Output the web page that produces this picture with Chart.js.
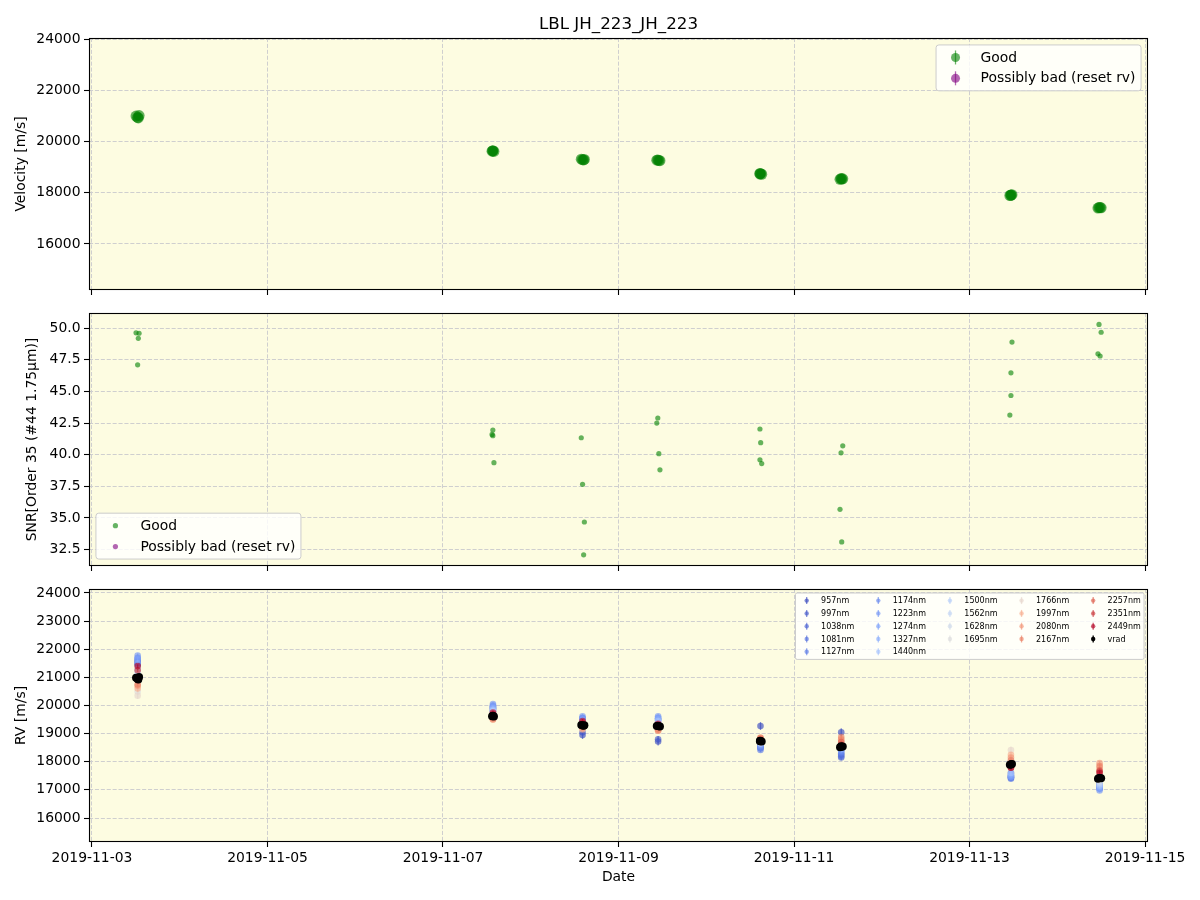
<!DOCTYPE html>
<html>
<head>
<meta charset="utf-8">
<title>LBL JH_223_JH_223</title>
<script src="https://cdn.jsdelivr.net/npm/chart.js@4.4.1/dist/chart.umd.min.js"></script>
<style>
  body { margin: 0; background: #fff; }
  #wrap { position: relative; width: 1200px; height: 900px; }
  #wrap canvas { position: absolute; left: 0; }
  #title { position: absolute; z-index: 5; left: 89px; width: 1059px; top: 13px; line-height: 20px;
           text-align: center; font: 16.7px "DejaVu Sans", sans-serif; color: #000; }
</style>
</head>
<body>
<div id="wrap">
  <canvas id="velChart" width="1200" height="300" style="top:0px"></canvas>
  <canvas id="snrChart" width="1200" height="276" style="top:300px"></canvas>
  <canvas id="rvChart" width="1200" height="324" style="top:576px"></canvas>
  <div id="title">LBL JH_223_JH_223</div>
</div>
<script>
// ---- data ----
const dateTicks = ['2019-11-03', '2019-11-05', '2019-11-07', '2019-11-09', '2019-11-11', '2019-11-13', '2019-11-15'];

// individual visits (4 per night)
const obsDates = [
  '2019-11-03 12:03', '2019-11-03 12:53', '2019-11-03 12:40', '2019-11-03 12:29',
  '2019-11-07 13:38', '2019-11-07 13:25', '2019-11-07 13:38', '2019-11-07 13:56',
  '2019-11-08 13:49', '2019-11-08 14:10', '2019-11-08 14:40', '2019-11-08 14:28',
  '2019-11-09 10:45', '2019-11-09 10:28', '2019-11-09 11:02', '2019-11-09 11:20',
  '2019-11-10 14:41', '2019-11-10 14:53', '2019-11-10 14:41', '2019-11-10 15:10',
  '2019-11-11 13:20', '2019-11-11 12:52', '2019-11-11 12:35', '2019-11-11 13:03',
  '2019-11-13 11:37', '2019-11-13 11:20', '2019-11-13 11:20', '2019-11-13 11:02',
  '2019-11-14 11:25', '2019-11-14 12:00', '2019-11-14 11:08', '2019-11-14 11:43'
];
const velocity = [
  20990, 21010, 20920, 20940,
  19640, 19620, 19630, 19610,
  19310, 19290, 19300, 19280,
  19280, 19270, 19260, 19250,
  18750, 18740, 18730, 18720,
  18540, 18550, 18520, 18530,
  17920, 17910, 17900, 17890,
  17420, 17410, 17400, 17420
];
const snr = [
  49.63, 49.6, 49.2, 47.1,
  41.95, 41.6, 41.5, 39.37,
  41.34, 37.66, 34.68, 32.08,
  42.9, 42.5, 40.08, 38.8,
  42.03, 40.95, 39.6, 39.3,
  40.7, 40.15, 35.68, 33.1,
  48.9, 46.47, 44.68, 43.13,
  50.3, 49.68, 47.97, 47.8
];
const badDates = [];
const badVelocity = [];
const badSnr = [];

// per-band RV, one value per night
const epochDates = ['2019-11-03 12:30', '2019-11-07 13:40', '2019-11-08 14:10', '2019-11-09 10:50',
                    '2019-11-10 14:50', '2019-11-11 12:55', '2019-11-13 11:20', '2019-11-14 11:35'];
const wavelengths = [957, 997, 1038, 1081, 1127, 1174, 1223, 1274, 1327, 1440,
                     1500, 1562, 1628, 1695, 1766, 1997, 2080, 2167, 2257, 2351, 2449];
const rv957  = [21450, 19800, 18950, 18720, 19270, 19050, 17600, 17250];
const rv997  = [21500, 19850, 19050, 18800, 18550, 18250, 17500, 17200];
const rv1038 = [21550, 19900, 19450, 19350, 18480, 18150, 17450, 17150];
const rv1081 = [21600, 19950, 19500, 19450, 18550, 18200, 17420, 17100];
const rv1127 = [21650, 19950, 19550, 19500, 18420, 18300, 17400, 17050];
const rv1174 = [21700, 20000, 19550, 19550, 18500, 18350, 17500, 17050];
const rv1223 = [21780, 20050, 19620, 19620, 18550, 18400, 17450, 16980];
const rv1274 = [21650, 19950, 19500, 19550, 18600, 18450, 17480, 17050];
const rv1327 = [21500, 19900, 19450, 19500, 18650, 18450, 17550, 17100];
const rv1440 = [21300, 19850, 19400, 19450, 18700, 18500, 17600, 17150];
const rv1500 = [21200, 19800, 19400, 19350, 18700, 18500, 17850, 17200];
const rv1562 = [21100, 19750, 19350, 19300, 18650, 18550, 17900, 17250];
const rv1628 = [20900, 19700, 19300, 19250, 18700, 18600, 17950, 17300];
const rv1695 = [20500, 19600, 19250, 19200, 18750, 18600, 18050, 17350];
const rv1766 = [20350, 19550, 19200, 19150, 18800, 18700, 18420, 17500];
const rv1997 = [20600, 19500, 19150, 19100, 18800, 18750, 18250, 17800];
const rv2080 = [20700, 19500, 19200, 19100, 18850, 18800, 18150, 17950];
const rv2167 = [20750, 19550, 19250, 19150, 18850, 18880, 18050, 17850];
const rv2257 = [20900, 19650, 19350, 19250, 18800, 18700, 17900, 17700];
const rv2351 = [21250, 19700, 19400, 19300, 18750, 18600, 17800, 17650];
const rv2449 = [21400, 19750, 19450, 19350, 18700, 18550, 17790, 17600];
const bandSeries = [rv957, rv997, rv1038, rv1081, rv1127, rv1174, rv1223, rv1274, rv1327, rv1440,
                    rv1500, rv1562, rv1628, rv1695, rv1766, rv1997, rv2080, rv2167, rv2257, rv2351, rv2449];
const bandErr = [140, 120, 100, 90, 80, 80, 70, 70, 70, 80, 90, 90, 100, 110, 110, 90, 80, 70, 60, 60, 70];

// axis limits / ticks
const xRange = [-0.034, 12.034];
const velRange = [14200, 24040];
const velTicks = [16000, 18000, 20000, 22000, 24000];
const snrRange = [31.2, 51.2];
const snrTicks = [32.5, 35, 37.5, 40, 42.5, 45, 47.5, 50];
const rvRange = [15147, 24142];
const rvTicks = [16000, 17000, 18000, 19000, 20000, 21000, 22000, 23000, 24000];

// ---- styles ----
// coolwarm anchors, 11 steps
const coolwarm = ['#3b4cc0', '#5977e3', '#7b9ff9', '#9ebeff', '#c0d4f5', '#dddcdc',
                  '#f2cbb7', '#f7ac8e', '#ee8468', '#d65244', '#b40426'];
const PANEL_BG = 'rgb(253,252,225)';
const GRID = '#cfcfcf';
const FS = 13.9;

Chart.defaults.font.family = '"DejaVu Sans", sans-serif';
Chart.defaults.color = '#000';
Chart.defaults.animation = false;

const DAY0 = Date.parse('2019-11-03T00:00:00Z');
const toDay = s => (Date.parse(s.replace(' ', 'T') + ':00Z') - DAY0) / 864e5;
const rgb = hex => { const n = parseInt(hex.slice(1), 16); return [n >> 16, (n >> 8) & 255, n & 255]; };
function cmap(t, alpha) {
  const p = Math.min(Math.max(t, 0), 1) * (coolwarm.length - 1);
  const i = Math.min(Math.floor(p), coolwarm.length - 2), f = p - i;
  const a = rgb(coolwarm[i]), b = rgb(coolwarm[i + 1]);
  const c = a.map((v, k) => Math.round(v + (b[k] - v) * f));
  return `rgba(${c[0]},${c[1]},${c[2]},${alpha})`;
}

// panel background + frame
const frame = {
  id: 'frame',
  beforeDraw(chart) {
    const { ctx, chartArea: a } = chart;
    ctx.save();
    ctx.fillStyle = '#fff';
    ctx.fillRect(0, 0, chart.width, chart.height);
    ctx.fillStyle = PANEL_BG;
    ctx.fillRect(a.left, a.top, a.right - a.left, a.bottom - a.top);
    ctx.restore();
  },
  afterDraw(chart) {
    const { ctx, chartArea: a } = chart;
    ctx.save();
    ctx.strokeStyle = '#000';
    ctx.lineWidth = 1.1;
    ctx.strokeRect(a.left + 0.5, a.top + 0.5, a.right - a.left - 1, a.bottom - a.top - 1);
    ctx.restore();
  }
};

// vertical error bars, drawn under each dataset's markers
const errorBars = {
  id: 'errorBars',
  beforeDatasetDraw(chart, args) {
    const ds = chart.data.datasets[args.index];
    if (!ds.errs) return;
    const ctx = chart.ctx, y = chart.scales.y;
    ctx.save();
    ctx.strokeStyle = ds.backgroundColor;
    ctx.lineWidth = 1.3;
    args.meta.data.forEach((pt, i) => {
      const v = ds.data[i].y, e = ds.errs[i];
      ctx.beginPath();
      ctx.moveTo(pt.x, y.getPixelForValue(v - e));
      ctx.lineTo(pt.x, y.getPixelForValue(v + e));
      ctx.stroke();
    });
    ctx.restore();
  }
};

// matplotlib-like legend inside the axes (column-major)
const boxLegend = {
  id: 'boxLegend',
  afterDatasetsDraw(chart, args, opts) {
    if (!opts.loc) return;
    const ctx = chart.ctx, a = chart.chartArea, f = opts.fontSize;
    const items = chart.data.datasets.map(ds => ({ text: ds.label, color: ds.backgroundColor }));
    const ncol = opts.ncol || 1;
    const base = Math.floor(items.length / ncol), extra = items.length % ncol;
    const cols = [];
    let k = 0;
    for (let c = 0; c < ncol; c++) {
      const n = base + (c < extra ? 1 : 0);
      cols.push(items.slice(k, k + n));
      k += n;
    }
    ctx.save();
    ctx.font = f + 'px "DejaVu Sans"';
    const colW = cols.map(col => 2.8 * f + Math.max(...col.map(it => ctx.measureText(it.text).width)));
    const nrow = cols[0].length;
    const rowH = opts.rowH * f;
    const w = 0.8 * f + colW.reduce((s, v) => s + v, 0) + 2 * f * (ncol - 1);
    const h = 0.8 * f + nrow * rowH + (nrow - 1) * 0.5 * f;
    const x0 = opts.loc.includes('right') ? a.right - 0.5 * f - w : a.left + 0.5 * f;
    const y0 = opts.loc.includes('upper') ? a.top + 0.5 * f : a.bottom - 0.5 * f - h;
    ctx.beginPath();
    ctx.roundRect(x0, y0, w, h, 0.2 * f);
    ctx.fillStyle = 'rgba(255,255,255,0.8)';
    ctx.fill();
    ctx.strokeStyle = '#cccccc';
    ctx.lineWidth = 1;
    ctx.stroke();
    ctx.textBaseline = 'middle';
    ctx.textAlign = 'left';
    let cx = x0 + 0.4 * f;
    cols.forEach((col, c) => {
      col.forEach((it, r) => {
        const cy = y0 + 0.4 * f + rowH / 2 + r * (rowH + 0.5 * f);
        const mx = cx + f;
        if (opts.errLen) {
          ctx.strokeStyle = it.color;
          ctx.lineWidth = 1.3;
          ctx.beginPath();
          ctx.moveTo(mx, cy - opts.errLen);
          ctx.lineTo(mx, cy + opts.errLen);
          ctx.stroke();
        }
        ctx.fillStyle = it.color;
        ctx.beginPath();
        ctx.arc(mx, cy, opts.markerRadius, 0, Math.PI * 2);
        ctx.fill();
        ctx.fillStyle = '#000';
        ctx.fillText(it.text, cx + 2.8 * f, cy + 0.5);
      });
      cx += colW[c] + 2 * f;
    });
    ctx.restore();
  }
};

function gridOpts() {
  return { color: GRID, lineWidth: 1, tickColor: '#000', tickLength: 5, tickWidth: 1.1, tickBorderDash: [] };
}
const borderOpts = { display: false, dash: [4.1, 1.8] };

function xAxis(showLabels, height, title) {
  return {
    type: 'linear', min: xRange[0], max: xRange[1],
    afterBuildTicks: s => { s.ticks = dateTicks.map(d => ({ value: toDay(d + ' 00:00') })); },
    afterFit: s => { s.height = height; s.paddingLeft = 0; s.paddingRight = 0; },
    ticks: { display: showLabels, autoSkip: false, maxRotation: 0, padding: 3, font: { size: FS },
             callback: (v, i) => dateTicks[i] },
    grid: gridOpts(),
    border: borderOpts,
    title: title ? { display: true, text: title, font: { size: FS }, padding: { top: 0, bottom: 14.7 } } : { display: false }
  };
}

function yAxis(range, ticks, fmt, title, titlePad) {
  return {
    min: range[0], max: range[1],
    afterBuildTicks: s => { s.ticks = ticks.map(v => ({ value: v })); },
    afterFit: s => { s.width = 89; s.paddingTop = 0; s.paddingBottom = 0; },
    ticks: { padding: 3.5, font: { size: FS }, callback: fmt },
    grid: gridOpts(),
    border: borderOpts,
    title: { display: true, text: title, font: { size: FS }, padding: { top: titlePad, bottom: 0 } }
  };
}

function makeChart(id, datasets, padTop, x, y, legend) {
  return new Chart(document.getElementById(id), {
    type: 'scatter',
    data: { datasets },
    options: {
      responsive: false,
      layout: { padding: { top: padTop, left: 0, right: 52, bottom: 0 } },
      scales: { x, y },
      plugins: { legend: { display: false }, tooltip: { enabled: false }, boxLegend: legend }
    },
    plugins: [frame, errorBars, boxLegend]
  });
}

const pts = (dates, vals) => dates.map((d, i) => ({ x: toDay(d), y: vals[i] }));
const green = 'rgba(0,128,0,0.6)';
const purple = 'rgba(128,0,128,0.6)';

// top: velocity
makeChart('velChart', [
  { label: 'Good', data: pts(obsDates, velocity), backgroundColor: green, pointRadius: 5.5, borderWidth: 0 },
  { label: 'Possibly bad (reset rv)', data: pts(badDates, badVelocity), backgroundColor: purple, pointRadius: 5.5, borderWidth: 0 }
], 38, xAxis(false, 10), yAxis(velRange, velTicks, v => String(v), 'Velocity [m/s]', 12.7),
{ loc: 'upper right', fontSize: FS, rowH: 1.0, markerRadius: 4.5, errLen: 7 });

// middle: SNR
makeChart('snrChart', [
  { label: 'Good', data: pts(obsDates, snr), backgroundColor: green, pointRadius: 2.6, borderWidth: 0 },
  { label: 'Possibly bad (reset rv)', data: pts(badDates, badSnr), backgroundColor: purple, pointRadius: 2.6, borderWidth: 0 }
], 13, xAxis(false, 10), yAxis(snrRange, snrTicks, v => v.toFixed(1), 'SNR[Order 35 (#44 1.75\u03bcm)]', 23.7),
{ loc: 'lower left', fontSize: FS, rowH: 1.0, markerRadius: 2.6, errLen: 0 });

// bottom: per-band RV + vrad, coloured by wavelength
const wlMin = wavelengths[0], wlMax = wavelengths[wavelengths.length - 1];
const bandSets = bandSeries.map((vals, i) => ({
  label: wavelengths[i] + 'nm',
  data: pts(epochDates, vals),
  errs: vals.map(() => bandErr[i]),
  backgroundColor: cmap((wavelengths[i] - wlMin) / (wlMax - wlMin), 0.65),
  pointRadius: 3.3, borderWidth: 0,
  order: bandSeries.length - i
}));
bandSets.push({ label: 'vrad', data: pts(obsDates, velocity), backgroundColor: '#000', pointRadius: 4, borderWidth: 0, order: 0 });

makeChart('rvChart', bandSets, 13, xAxis(true, 58, 'Date'), yAxis(rvRange, rvTicks, v => String(v), 'RV [m/s]', 12.7),
{ loc: 'upper right', fontSize: 8, rowH: 1.1, ncol: 5, markerRadius: 2.2, errLen: 3.5 });
</script>
</body>
</html>
